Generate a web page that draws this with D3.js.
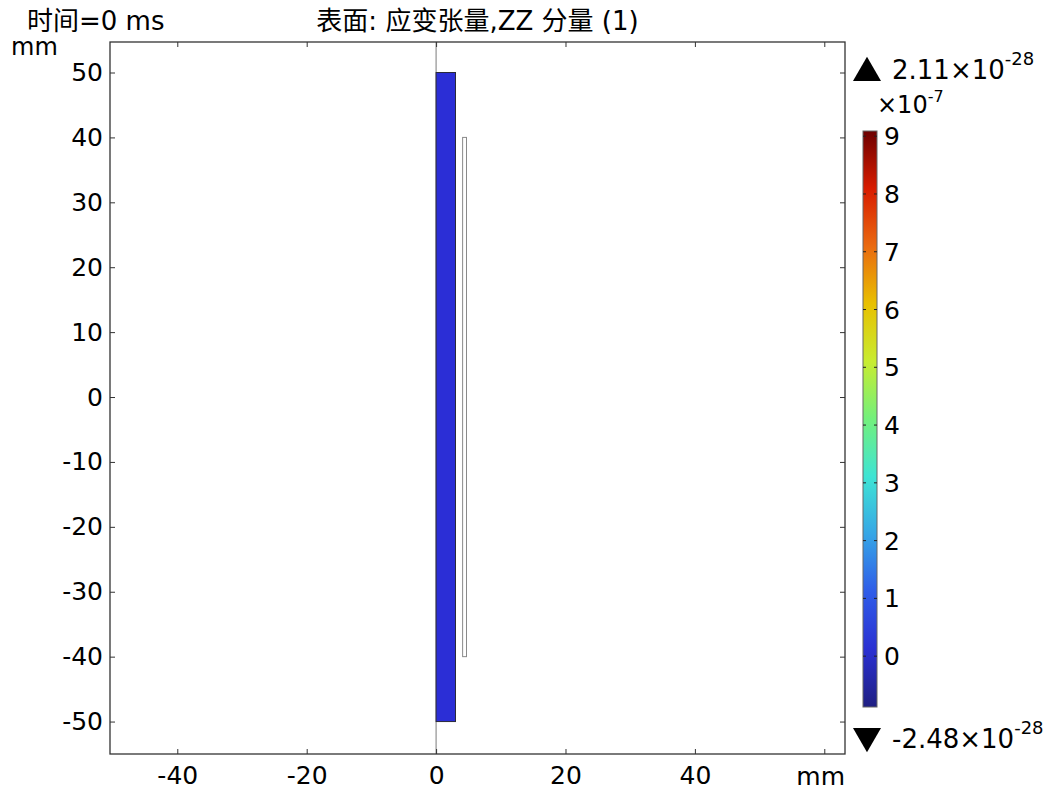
<!DOCTYPE html>
<html>
<head>
<meta charset="utf-8">
<script src="https://cdn.jsdelivr.net/npm/d3@7"></script>
<style>
    body { margin: 0; background: #fff; }
    text { font-family: "DejaVu Sans", "Noto Sans CJK SC", sans-serif; fill: #000; }
</style>
</head>
<body>
<div id="chart"></div>
<script>
// axis ticks (mm)
var xTicks = [-40, -20, 0, 20, 40, 60];
var xTickLabels = ["-40", "-20", "0", "20", "40", ""];
var yTicks = [-50, -40, -30, -20, -10, 0, 10, 20, 30, 40, 50];

// geometry in mm: [r0, r1, z0, z1]
var solidDomain = [0, 3, -50, 50];
var thinDomain = [4.1, 4.7, -40, 40];

// colour legend (x 1e-7)
var legendTicks = [0, 1, 2, 3, 4, 5, 6, 7, 8, 9];
var legendRange = [-0.88, 9.09];
var rainbowStops = ["#1f1f82", "#2a30d2", "#2f5ce8", "#36a6e6", "#3ee4d4", "#72f07c",
    "#c8ec30", "#e8c000", "#ea6a10", "#d81c00", "#6e0000"];
var maxLabel = "2.11\u00d710";
var minLabel = "-2.48\u00d710";
var expLabel = "-28";

var width = 1058, height = 790;
var margin = { top: 42, right: 213, bottom: 36, left: 110 };
var plotW = width - margin.left - margin.right,
    plotH = height - margin.top - margin.bottom;

var x = d3.scaleLinear().domain([-50.4, 63.2]).range([0, plotW]);
var y = d3.scaleLinear().domain([-55.0, 54.7]).range([plotH, 0]);

var svg = d3.select("#chart").append("svg")
    .attr("width", width)
    .attr("height", height);

var g = svg.append("g")
    .attr("transform", "translate(" + margin.left + "," + margin.top + ")");

// symmetry axis r = 0
g.append("line")
    .attr("x1", x(0)).attr("x2", x(0))
    .attr("y1", 0).attr("y2", plotH)
    .attr("stroke", "#7a7a7a")
    .attr("stroke-width", 1);

// blue solid domain
g.append("rect")
    .attr("x", x(solidDomain[0]))
    .attr("y", y(solidDomain[3]))
    .attr("width", x(solidDomain[1]) - x(solidDomain[0]))
    .attr("height", y(solidDomain[2]) - y(solidDomain[3]))
    .attr("fill", "#2b2ed6")
    .attr("stroke", "#2a2a3a")
    .attr("stroke-width", 1);

// thin empty domain
g.append("rect")
    .attr("x", x(thinDomain[0]))
    .attr("y", y(thinDomain[3]))
    .attr("width", x(thinDomain[1]) - x(thinDomain[0]))
    .attr("height", y(thinDomain[2]) - y(thinDomain[3]))
    .attr("fill", "#fff")
    .attr("stroke", "#8a8a8a")
    .attr("stroke-width", 1);

// axes, ticks pointing inwards
function styleAxis(sel) {
    sel.select(".domain").remove();
    sel.selectAll(".tick line").attr("stroke", "#333");
    sel.selectAll(".tick text").style("font-size", "25px");
}

g.append("g")
    .attr("transform", "translate(0," + plotH + ")")
    .call(d3.axisBottom(x).tickValues(xTicks)
        .tickFormat(function (d, i) { return xTickLabels[i]; })
        .tickSize(-5).tickPadding(9))
    .call(styleAxis)
    .selectAll(".tick text").attr("dy", "0.85em");

g.append("g")
    .call(d3.axisTop(x).tickValues(xTicks).tickFormat("").tickSize(-5))
    .call(styleAxis);

g.append("g")
    .call(d3.axisLeft(y).tickValues(yTicks)
        .tickFormat(function (d) { return String(d); })
        .tickSize(-5).tickPadding(7))
    .call(styleAxis);

g.append("g")
    .attr("transform", "translate(" + plotW + ",0)")
    .call(d3.axisRight(y).tickValues(yTicks).tickFormat("").tickSize(-5))
    .call(styleAxis);

// frame
g.append("rect")
    .attr("width", plotW)
    .attr("height", plotH)
    .attr("fill", "none")
    .attr("stroke", "#333")
    .attr("stroke-width", 1.3);

// titles and unit labels
svg.append("text")
    .attr("x", 27).attr("y", 30)
    .style("font-size", "26px")
    .text("时间=0 ms");

svg.append("text")
    .attr("x", margin.left + plotW / 2).attr("y", 30)
    .attr("text-anchor", "middle")
    .style("font-size", "26px")
    .text("表面: 应变张量,ZZ 分量 (1)");

svg.append("text")
    .attr("x", 11).attr("y", 55)
    .style("font-size", "24px")
    .text("mm");

svg.append("text")
    .attr("x", margin.left + plotW).attr("y", 785)
    .attr("text-anchor", "end")
    .style("font-size", "25px")
    .text("mm");

// colour legend
var barX = 863, barW = 14, barTop = 131, barBottom = 707;
var cy = d3.scaleLinear().domain(legendRange).range([barBottom, barTop]);

var defs = svg.append("defs");
var grad = defs.append("linearGradient")
    .attr("id", "rainbow")
    .attr("x1", 0).attr("y1", 1).attr("x2", 0).attr("y2", 0);
grad.selectAll("stop")
    .data(rainbowStops)
    .enter().append("stop")
    .attr("offset", function (d, i) { return i / (rainbowStops.length - 1); })
    .attr("stop-color", function (d) { return d; });

svg.append("rect")
    .attr("x", barX).attr("y", barTop)
    .attr("width", barW).attr("height", barBottom - barTop)
    .attr("fill", "url(#rainbow)")
    .attr("stroke", "#666")
    .attr("stroke-width", 1);

var lg = svg.append("g");
lg.selectAll(".ltickL")
    .data(legendTicks)
    .enter().append("line")
    .attr("x1", barX).attr("x2", barX + 3)
    .attr("y1", function (d) { return cy(d); })
    .attr("y2", function (d) { return cy(d); })
    .attr("stroke", "#222");
lg.selectAll(".ltickR")
    .data(legendTicks)
    .enter().append("line")
    .attr("x1", barX + barW - 3).attr("x2", barX + barW)
    .attr("y1", function (d) { return cy(d); })
    .attr("y2", function (d) { return cy(d); })
    .attr("stroke", "#222");
lg.selectAll(".llabel")
    .data(legendTicks)
    .enter().append("text")
    .attr("x", 884)
    .attr("y", function (d) { return cy(d); })
    .attr("dy", "0.36em")
    .style("font-size", "25px")
    .text(function (d) { return d; });

// scale factor
var sf = svg.append("text").attr("x", 877).attr("y", 113).style("font-size", "24px");
sf.append("tspan").text("\u00d710");
sf.append("tspan").attr("dy", -11).style("font-size", "16px").text("-7");

// max / min markers
var tri = d3.symbol().type(d3.symbolTriangle).size(340);
svg.append("path")
    .attr("d", tri)
    .attr("transform", "translate(867,73)")
    .attr("fill", "#000");
svg.append("path")
    .attr("d", tri)
    .attr("transform", "translate(867,736) rotate(180)")
    .attr("fill", "#000");

function extremeLabel(yPos, label) {
    var t = svg.append("text").attr("x", 892).attr("y", yPos).style("font-size", "26px");
    t.append("tspan").text(label);
    t.append("tspan").attr("dy", -14).style("font-size", "18px").text(expLabel);
}
extremeLabel(79, maxLabel);
extremeLabel(748, minLabel);
</script>
</body>
</html>
